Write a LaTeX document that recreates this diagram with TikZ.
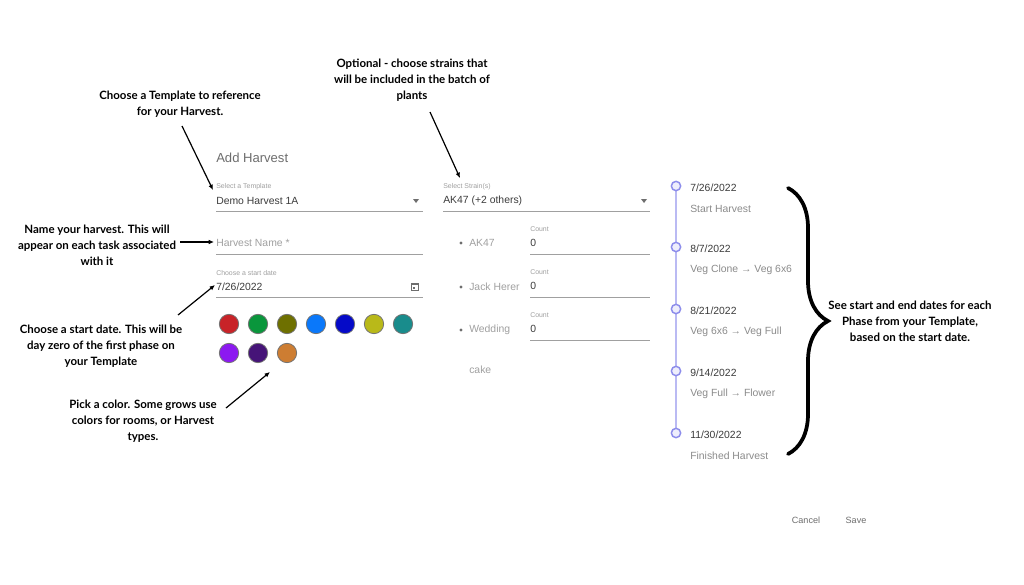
\documentclass[tikz,border=0pt]{standalone}
\usepackage{fontspec}
\setmainfont{Liberation Sans}
\newfontfamily\annfont{Lato}
\usetikzlibrary{arrows.meta,decorations.pathreplacing}
\definecolor{uigray}{RGB}{110,110,110}
\definecolor{uitext}{RGB}{60,60,60}
\definecolor{lightg}{RGB}{160,160,160}
\definecolor{tl}{RGB}{140,140,235}
\tikzset{
 ann/.style={font=\annfont\bfseries\fontsize{8.6}{12}\selectfont, align=center, text=black},
 arr/.style={-{Latex[length=4pt,width=3.5pt]}, line width=0.9pt},
 lbl/.style={font=\fontsize{5.2}{6}\selectfont, text=lightg, anchor=west, inner sep=0},
 val/.style={font=\fontsize{7.8}{9}\selectfont, text=uitext, anchor=west, inner sep=0},
 ph/.style={font=\fontsize{7.8}{9}\selectfont, text=lightg, anchor=west, inner sep=0},
 uline/.style={draw=lightg, line width=0.6pt},
 swatch/.style={circle, draw=black!55, line width=0.6pt, minimum size=14.5pt, inner sep=0},
 tdot/.style={circle, draw=tl, fill=tl!15, line width=1.1pt, minimum size=7pt, inner sep=0},
}
\begin{document}
\begin{tikzpicture}[x=0.75pt,y=-0.75pt]
\useasboundingbox (0,0) rectangle (1024,585);
\fill[white] (0,0) rectangle (1024,585);
% annotations
\node[ann] (a1) at (180,104) {Choose a Template to reference\\for your Harvest.};
\node[ann] (a2) at (412,80) {Optional - choose strains that\\will be included in the batch of\\plants};
\node[ann] (a3) at (97,245) {Name your harvest. This will\\appear on each task associated\\with it};
\node[ann] (a4) at (101,346) {Choose a start date. This will be\\day zero of the first phase on\\your Template};
\node[ann] (a5) at (143,421) {Pick a color. Some grows use\\colors for rooms, or Harvest\\types.};
\node[ann] (a6) at (910,321) {See start and end dates for each\\Phase from your Template,\\based on the start date.};
% form
\node[font=\fontsize{9.8}{11}\selectfont, text=uigray, anchor=west, inner sep=0] (title) at (216,158) {Add Harvest};
\node[lbl] (tl1) at (216,187) {Select a Template};
\node[val] (tv) at (216,201) {Demo Harvest 1A};
\draw[uline] (216,211) -- (423,211);
\fill[uigray] (413,199) -- (419,199) -- (416,203) -- cycle;
\node[lbl] (sl) at (443,187) {Select Strain(s)};
\node[val] (sv) at (443,201) {AK47 (+2 others)};
\draw[uline] (443,211) -- (650,211);
\fill[uigray] (641,199) -- (647,199) -- (644,203) -- cycle;
\node[ph] (hn) at (216,243) {Harvest Name *};
\draw[uline] (216,254) -- (423,254);
\node[lbl] (dl) at (216,273) {Choose a start date};
\node[val] (dv) at (216,287) {7/26/2022};
\draw[uline] (216,297) -- (423,297);
\draw[uigray, line width=0.6pt] (411,283) rectangle (418,290);
\fill[uigray] (411,283) rectangle (418,285);
\fill[uigray] (413,287) rectangle (415,289);
% strains
\foreach \y/\n in {243/AK47, 287/Jack Herer, 330/Wedding}{
 \fill[uigray] (461,\y) circle (1.6);
 \node[ph] at (469,\y) {\n};
}
\node[ph] (cake) at (469,370) {cake};
\foreach \y in {229,272,315}{
 \node[lbl] at (530,\y) {Count};
 \node[val] at (530,\y+14) {0};
 \draw[uline] (530,\y+25) -- (650,\y+25);
}
% swatches
\foreach \x/\r/\g/\b in {229/200/35/40,258/10/150/60,287/110/112/0,316/10/120/250,345/5/10/200,374/185/185/25,403/25/140/140}{
 \node[swatch, fill={rgb,255:red,\r;green,\g;blue,\b}] at (\x,324) {};
}
\node[swatch, fill={rgb,255:red,140;green,25;blue,240}] (s8) at (229,353) {};
\node[swatch, fill={rgb,255:red,70;green,20;blue,120}] (s9) at (258,353) {};
\node[swatch, fill={rgb,255:red,205;green,125;blue,50}] (s10) at (287,353) {};
% annotation arrows
\coordinate (t1) at (213,190); \coordinate (t2) at (460,178);
\coordinate (t3) at (214,242); \coordinate (t4) at (215,285);
\coordinate (t5) at (270,372);
\draw[arr] (182,126) -- (t1);
\draw[arr] (430,112) -- (t2);
\draw[arr] (180,242) -- (t3);
\draw[arr] (178,315) -- (t4);
\draw[arr] (226,408) -- (t5);
% timeline
\draw[tl!60, line width=0.8pt] (676,186) -- (676,433);
\foreach \y/\d/\t [count=\i] in {186/7\slash 26\slash 2022/Start Harvest, 247/8\slash 7\slash 2022/Veg Clone → Veg 6x6, 309/8\slash 21\slash 2022/Veg 6x6 → Veg Full, 371/9\slash 14\slash 2022/Veg Full → Flower, 433/11\slash 30\slash 2022/Finished Harvest}{
 \node[tdot] (d\i) at (676,\y) {};
 \node[val] at (690,\y+2) {\d};
 \node[ph, text=uigray!80] at (690,\y+23) {\t};
}
% brace
\draw[line width=2.8pt, line cap=round, decorate, decoration={brace, amplitude=30pt, raise=0pt}] (788,188) -- (788,454);
% buttons
\node[font=\fontsize{6.8}{8}\selectfont, text=uigray] (cancel) at (806,520) {Cancel};
\node[font=\fontsize{6.8}{8}\selectfont, text=uigray] (save) at (856,520) {Save};
\end{tikzpicture}
\end{document}
